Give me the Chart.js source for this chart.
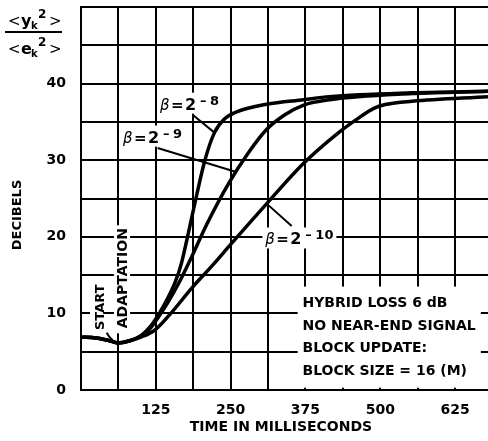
<!DOCTYPE html>
<html>
<head>
<meta charset="utf-8">
<script src="https://cdn.jsdelivr.net/npm/chart.js@4.4.1/dist/chart.umd.min.js"></script>
<style>
  html, body { margin: 0; padding: 0; background: #fff; }
  #wrap { width: 488px; height: 441px; position: relative; }
</style>
</head>
<body>
<div id="wrap"><canvas id="chart"></canvas></div>
<script>
// axis ticks
const timeTicks = [0, 62.5, 125, 187.5, 250, 312.5, 375, 437.5, 500, 562.5, 625];
const timeLabels = [125, 250, 375, 500, 625];
const dbTicks = [0, 5, 10, 15, 20, 25, 30, 35, 40, 45, 50];
const dbLabels = [0, 10, 20, 30, 40];

// beta = 2^-8
const beta8Ms = [0, 25, 45, 62, 80, 100, 115, 130, 145, 158, 168, 178, 192, 207, 223, 240, 260, 310, 372, 415, 553, 680];
const beta8Db = [6.9, 6.8, 6.5, 6.15, 6.4, 7.1, 8.2, 9.9, 12.0, 14.2, 16.6, 20, 25, 30, 33.6, 35.4, 36.3, 37.3, 37.9, 38.3, 38.8, 39.0];

// beta = 2^-9
const beta9Ms = [0, 25, 45, 62, 80, 100, 115, 130, 145, 165, 185, 210, 247, 280, 310, 340, 372, 415, 553, 680];
const beta9Db = [6.9, 6.8, 6.5, 6.15, 6.4, 7.0, 8.0, 9.6, 11.4, 14.2, 17.4, 21.6, 27.0, 31, 34, 35.9, 37.2, 37.9, 38.7, 39.0];

// beta = 2^-10
const beta10Ms = [0, 25, 45, 62, 80, 100, 123, 150, 185, 220, 250, 310, 372, 432, 460, 490, 510, 553, 680];
const beta10Db = [6.9, 6.8, 6.5, 6.15, 6.4, 6.9, 7.8, 10, 13.3, 16.3, 19.0, 24.3, 29.6, 33.7, 35.3, 36.8, 37.3, 37.7, 38.3];

const boxLines = ['HYBRID LOSS 6 dB', 'NO NEAR-END SIGNAL', 'BLOCK UPDATE:', 'BLOCK SIZE = 16 (M)'];

const FONT = '"DejaVu Sans", sans-serif';

function toPoints(xs, ys) {
    return xs.map((t, i) => ({ x: t, y: ys[i] }));
}

function drawBeta(ctx, left, base, exp) {
    ctx.fillStyle = '#fff';
    ctx.fillRect(left - 3, base - 17, 50 + exp.length * 9 + 6, 21);
    ctx.fillStyle = '#000';
    ctx.textAlign = 'left';
    ctx.textBaseline = 'alphabetic';
    ctx.font = 'italic 15px ' + FONT;
    ctx.fillText('\u03b2', left, base);
    ctx.font = 'bold 15px ' + FONT;
    ctx.fillText('=', left + 11, base);
    ctx.font = 'bold 16px ' + FONT;
    ctx.fillText('2', left + 25, base);
    ctx.font = 'bold 13px ' + FONT;
    ctx.fillText('\u2013', left + 40, base - 5);
    ctx.fillText(exp, left + 50, base - 5);
}

function line(ctx, x1, y1, x2, y2) {
    ctx.beginPath();
    ctx.moveTo(x1, y1);
    ctx.lineTo(x2, y2);
    ctx.stroke();
}

function rotText(ctx, txt, cx, cy) {
    ctx.save();
    ctx.translate(cx, cy);
    ctx.rotate(-Math.PI / 2);
    ctx.textAlign = 'center';
    ctx.textBaseline = 'middle';
    ctx.fillText(txt, 0, 0);
    ctx.restore();
}

const notes = {
    id: 'notes',
    afterDatasetsDraw(chart) {
        const { ctx, scales: { x, y } } = chart;
        const px = v => x.getPixelForValue(v);
        const py = v => y.getPixelForValue(v);
        ctx.save();
        ctx.strokeStyle = '#000';
        ctx.fillStyle = '#000';
        ctx.lineWidth = 2;

        // info box
        ctx.fillStyle = '#fff';
        ctx.fillRect(px(362), py(13.5), px(668) - px(362), py(0.3) - py(13.5));
        ctx.fillStyle = '#000';
        ctx.font = 'bold 14px ' + FONT;
        ctx.textAlign = 'left';
        ctx.textBaseline = 'middle';
        boxLines.forEach((s, i) => ctx.fillText(s, px(370), py(11.3 - i * 2.95)));

        // start adaptation
        ctx.fillStyle = '#fff';
        ctx.fillRect(px(15), py(14.2), px(37) - px(15), py(7.7) - py(14.2));
        ctx.fillRect(px(55), py(21.5), px(82) - px(55), py(7.4) - py(21.5));
        ctx.fillStyle = '#000';
        ctx.font = 'bold 13px ' + FONT;
        rotText(ctx, 'START', px(32), py(10.8));
        ctx.font = 'bold 14px ' + FONT;
        rotText(ctx, 'ADAPTATION', px(70), py(14.6));
        ctx.beginPath();
        ctx.moveTo(px(43), py(7.5));
        ctx.quadraticCurveTo(px(47), py(6.8), px(58), py(6.2));
        ctx.stroke();

        // beta labels and leaders
        drawBeta(ctx, px(132), py(36.6), '8');
        line(ctx, px(187), py(35.9), px(223), py(33.6));
        drawBeta(ctx, px(70), py(32.3), '9');
        line(ctx, px(128), py(31.6), px(258), py(28.5));
        drawBeta(ctx, px(308), py(19.0), '10');
        line(ctx, px(352), py(21.4), px(312), py(24.2));

        // axis titles
        ctx.font = 'bold 13px ' + FONT;
        rotText(ctx, 'DECIBELS', 18, 215);
        ctx.font = 'bold 14px ' + FONT;
        ctx.textAlign = 'center';
        ctx.textBaseline = 'middle';
        ctx.fillText('TIME IN MILLISECONDS', 281, 427);

        // ratio label <yk^2> / <ek^2>
        const ratio = (base, letter) => {
            ctx.textAlign = 'left';
            ctx.textBaseline = 'alphabetic';
            ctx.font = '15px ' + FONT;
            ctx.fillText('<', 8, base);
            ctx.font = 'bold 16px ' + FONT;
            ctx.fillText(letter, 21, base);
            ctx.font = 'bold 10px ' + FONT;
            ctx.fillText('k', 31, base + 3);
            ctx.font = 'bold 12px ' + FONT;
            ctx.fillText('2', 38, base - 8);
            ctx.font = '15px ' + FONT;
            ctx.fillText('>', 49, base);
        };
        ratio(26, 'y');
        line(ctx, 5, 32, 62, 32);
        ratio(54, 'e');
        ctx.restore();
    }
};

const style = { borderColor: '#000', borderWidth: 3.5, pointRadius: 0, cubicInterpolationMode: 'monotone', fill: false };

const noPad = s => { s.paddingTop = 0; s.paddingBottom = 0; s.paddingLeft = 0; s.paddingRight = 0; };

new Chart(document.getElementById('chart'), {
    type: 'line',
    data: {
        datasets: [
            { label: 'beta 2^-8', data: toPoints(beta8Ms, beta8Db), ...style },
            { label: 'beta 2^-9', data: toPoints(beta9Ms, beta9Db), ...style },
            { label: 'beta 2^-10', data: toPoints(beta10Ms, beta10Db), ...style }
        ]
    },
    options: {
        responsive: true,
        maintainAspectRatio: false,
        animation: false,
        layout: { padding: { top: 7, right: 0, left: 0, bottom: 0 } },
        plugins: { legend: { display: false }, tooltip: { enabled: false } },
        scales: {
            x: {
                type: 'linear',
                min: 0,
                max: 680,
                afterBuildTicks: s => { s.ticks = timeTicks.map(v => ({ value: v })); },
                afterFit: s => { s.height = 51; noPad(s); },
                ticks: {
                    callback: v => timeLabels.includes(v) ? String(v) : '',
                    font: { family: 'DejaVu Sans', weight: 'bold', size: 14 },
                    color: '#000',
                    maxRotation: 0,
                    autoSkip: false,
                    padding: 12
                },
                grid: { color: '#000', lineWidth: 2, drawTicks: false },
                border: { color: '#000', width: 2 }
            },
            y: {
                min: 0,
                max: 50,
                afterBuildTicks: s => { s.ticks = dbTicks.map(v => ({ value: v })); },
                afterFit: s => { s.width = 81; noPad(s); },
                ticks: {
                    callback: v => dbLabels.includes(v) ? String(v) : '',
                    font: { family: 'DejaVu Sans', weight: 'bold', size: 14 },
                    color: '#000',
                    autoSkip: false,
                    padding: 15
                },
                grid: { color: '#000', lineWidth: 2, drawTicks: false },
                border: { color: '#000', width: 2 }
            }
        }
    },
    plugins: [notes]
});
</script>
</body>
</html>
